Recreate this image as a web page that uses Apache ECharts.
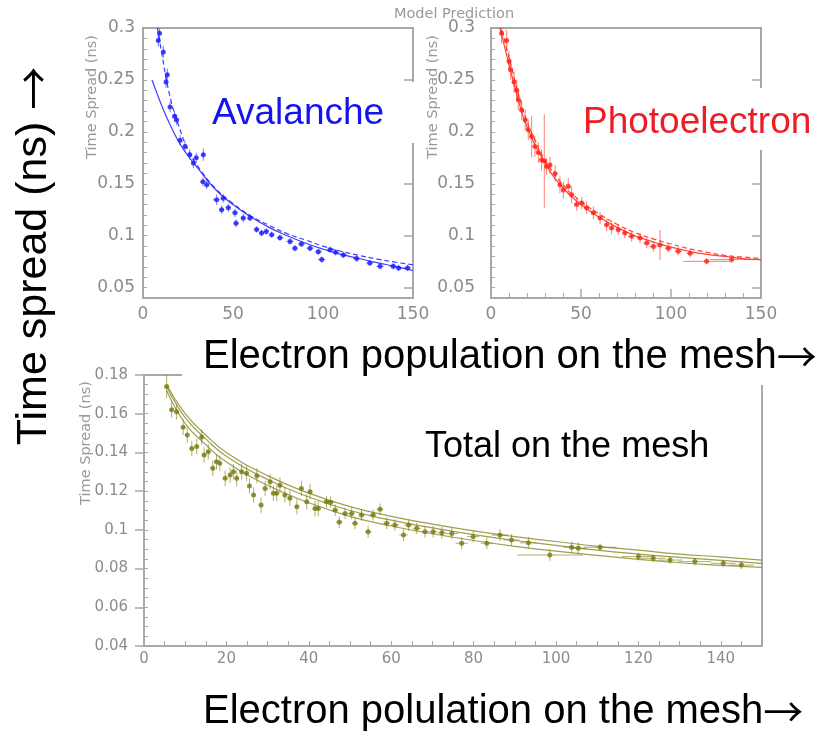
<!DOCTYPE html>
<html>
<head>
<meta charset="utf-8">
<script src="https://cdn.jsdelivr.net/npm/echarts@6/dist/echarts.min.js"></script>
<style>
html, body { margin: 0; padding: 0; background: #fff; }
#main { width: 816px; height: 732px; }
</style>
</head>
<body>
<div id="main"></div>
<script>
// points are [x, y, xErr, yErr]
const avalanchePoints = [
  [8.5, 0.288, 1, 0.006], [9.2, 0.295, 1, 0.006], [11.3, 0.277, 1, 0.006], [12.8, 0.248, 1, 0.006],
  [13.5, 0.255, 1, 0.006], [15, 0.224, 1, 0.005], [17.5, 0.215, 1, 0.005], [18.7, 0.2115, 1, 0.005],
  [20.6, 0.192, 1, 0.005], [23.3, 0.186, 1, 0.005], [26, 0.178, 1, 0.005], [28, 0.170, 1, 0.005],
  [29.6, 0.175, 1, 0.005], [33.5, 0.178, 1, 0.006], [33.3, 0.152, 1.5, 0.004], [35.4, 0.149, 1.5, 0.004],
  [40.9, 0.1346, 2, 0.005], [43.7, 0.125, 1.5, 0.004], [44.6, 0.136, 1.5, 0.004], [47.4, 0.127, 1.5, 0.004],
  [51.1, 0.122, 1.5, 0.004], [51.7, 0.112, 1.5, 0.004], [55.7, 0.117, 1.5, 0.004], [59.4, 0.117, 1.5, 0.003],
  [63.1, 0.106, 1.5, 0.003], [65.9, 0.1026, 1.5, 0.003], [68.5, 0.104, 1.5, 0.003], [71.5, 0.101, 1.5, 0.003],
  [76.1, 0.098, 2, 0.003], [81.7, 0.0945, 2, 0.003], [84.4, 0.088, 1.5, 0.003], [88, 0.092, 2, 0.003],
  [92.8, 0.088, 2, 0.003], [97.4, 0.0845, 2, 0.003], [99.3, 0.077, 2, 0.003], [103.9, 0.0865, 2, 0.003],
  [107, 0.084, 2, 0.003], [111.3, 0.0815, 2, 0.003], [118.7, 0.078, 2, 0.003], [126, 0.0737, 2, 0.003],
  [131.7, 0.0705, 2, 0.003], [139, 0.0705, 2, 0.003], [142, 0.069, 2, 0.003], [147, 0.069, 2, 0.003]
];
const avalancheFitUpper = [
  [8, 0.3], [10, 0.28], [15, 0.234], [20, 0.205], [25, 0.183], [30, 0.168], [40, 0.146], [50, 0.131],
  [60, 0.119], [70, 0.11], [80, 0.102], [90, 0.096], [100, 0.09], [110, 0.085], [120, 0.081],
  [130, 0.0775], [140, 0.0745], [150, 0.072]
];
const avalancheFitLower = [
  [5, 0.25], [8, 0.236], [10, 0.227], [15, 0.207], [20, 0.19], [25, 0.177], [30, 0.166], [40, 0.145],
  [50, 0.13], [60, 0.118], [70, 0.108], [80, 0.1], [90, 0.093], [100, 0.087], [110, 0.082],
  [120, 0.078], [130, 0.074], [140, 0.0705], [150, 0.0665]
];

const photoPoints = [
  [5.9, 0.295, 1, 0.01], [8.7, 0.288, 1, 0.01], [10, 0.268, 1, 0.01], [10.9, 0.26, 1, 0.01],
  [12.8, 0.248, 1, 0.01], [14.3, 0.24, 1, 0.01], [15.2, 0.231, 1, 0.01], [17, 0.221, 1, 0.01],
  [19, 0.2115, 1, 0.01], [20.7, 0.202, 1, 0.01], [22.6, 0.1955, 1, 0.02], [24.4, 0.186, 1, 0.01],
  [26.3, 0.18, 1, 0.01], [28.1, 0.173, 1, 0.01], [29.6, 0.172, 1, 0.045], [30.9, 0.1667, 1, 0.008],
  [32.8, 0.168, 1, 0.008], [35.6, 0.16, 1, 0.008], [38.3, 0.149, 1, 0.008], [40.2, 0.144, 1, 0.008],
  [42.9, 0.1475, 1.5, 0.008], [44.8, 0.1394, 1.5, 0.008], [47.6, 0.13, 1.5, 0.006], [50.4, 0.1314, 1.5, 0.006],
  [53.1, 0.127, 1.5, 0.006], [56.9, 0.122, 1.5, 0.006], [60.6, 0.117, 1.5, 0.006], [64.3, 0.1106, 1.5, 0.006],
  [67, 0.1074, 1.5, 0.006], [70.7, 0.1058, 1.5, 0.005], [74.4, 0.1026, 1.5, 0.005], [78.1, 0.0994, 2, 0.005],
  [82.8, 0.0978, 2, 0.005], [86.5, 0.093, 2, 0.005], [90.2, 0.0897, 2, 0.005], [93.9, 0.091, 2, 0.0145],
  [98.5, 0.088, 2, 0.004], [104, 0.085, 2, 0.004], [110.6, 0.083, 2, 0.004], [119.8, 0.0753, 13, 0.003],
  [133.7, 0.077, 12, 0.003]
];
const photoFitUpper = [
  [5, 0.305], [8, 0.285], [10, 0.272], [15, 0.238], [20, 0.21], [25, 0.19], [30, 0.173], [40, 0.149],
  [50, 0.133], [60, 0.121], [70, 0.111], [80, 0.103], [90, 0.097], [100, 0.092], [110, 0.0875],
  [120, 0.084], [130, 0.081], [140, 0.0795], [150, 0.078]
];
const photoFitLower = [
  [5, 0.3], [10, 0.265], [15, 0.232], [20, 0.205], [30, 0.17], [40, 0.146], [50, 0.13], [60, 0.118],
  [70, 0.108], [80, 0.1], [90, 0.094], [100, 0.089], [110, 0.085], [120, 0.082], [130, 0.08],
  [140, 0.078], [150, 0.077]
];

const totalPoints = [
  [5.5, 0.174, 0.5, 0.006], [6.7, 0.162, 0.5, 0.004], [7.9, 0.161, 0.5, 0.004], [9.5, 0.153, 0.5, 0.004],
  [10.5, 0.149, 0.5, 0.004], [11.6, 0.142, 0.5, 0.004], [12.8, 0.143, 0.5, 0.004], [14, 0.148, 0.5, 0.004],
  [14.6, 0.1387, 0.5, 0.004], [15.6, 0.1404, 0.5, 0.004], [16.7, 0.1318, 0.5, 0.004], [17.6, 0.1352, 0.5, 0.004],
  [18.4, 0.1344, 0.5, 0.004], [19.7, 0.1266, 0.5, 0.004], [20.9, 0.1283, 0.5, 0.004], [21.7, 0.13, 0.5, 0.004],
  [22.5, 0.1266, 0.5, 0.004], [23.7, 0.13, 0.5, 0.004], [24.9, 0.1292, 0.5, 0.004], [25.6, 0.1227, 0.5, 0.004],
  [26.6, 0.118, 0.5, 0.004], [27.4, 0.128, 0.5, 0.004], [28.4, 0.1128, 0.5, 0.004], [29.4, 0.1214, 0.5, 0.004],
  [30.6, 0.1249, 0.5, 0.004], [31.4, 0.1189, 0.5, 0.004], [32.2, 0.1189, 0.5, 0.004], [33, 0.1231, 0.5, 0.004],
  [34.2, 0.118, 0.5, 0.004], [35.4, 0.1163, 0.5, 0.004], [37.1, 0.112, 0.5, 0.004], [38.2, 0.1214, 0.5, 0.004],
  [39.5, 0.1145, 0.5, 0.004], [40.3, 0.1197, 0.5, 0.004], [41.5, 0.111, 0.5, 0.004], [42.3, 0.111, 0.5, 0.004],
  [44.3, 0.1145, 0.8, 0.003], [45.3, 0.1143, 0.8, 0.003], [46.4, 0.1102, 0.8, 0.003], [47.4, 0.104, 0.8, 0.003],
  [48.8, 0.1085, 0.8, 0.003], [50.4, 0.1085, 0.8, 0.003], [51.2, 0.1034, 0.8, 0.003], [52.8, 0.1077, 0.8, 0.003],
  [54.4, 0.099, 0.8, 0.003], [55.6, 0.1077, 0.8, 0.003], [57.3, 0.1106, 0.8, 0.003], [58.9, 0.1034, 0.8, 0.003],
  [60.9, 0.1025, 1, 0.003], [63, 0.0973, 1, 0.003], [64.2, 0.1025, 1, 0.003], [66.2, 0.1008, 1, 0.003],
  [68.2, 0.099, 1, 0.003], [70.2, 0.099, 1, 0.003], [72.3, 0.0985, 1, 0.003], [74.7, 0.0981, 1.5, 0.003],
  [77.1, 0.0931, 1.5, 0.003], [79.9, 0.0965, 1.5, 0.003], [83.2, 0.0931, 1.5, 0.003], [86.4, 0.0973, 2, 0.003],
  [89.2, 0.0948, 2, 0.003], [93.3, 0.0933, 2, 0.003], [98.5, 0.087, 8, 0.003], [103.8, 0.091, 2, 0.003],
  [105.4, 0.0905, 2, 0.003], [110.7, 0.091, 4, 0.002], [120, 0.0862, 4, 0.002], [123.6, 0.0853, 3, 0.002],
  [127.7, 0.0844, 3, 0.002], [133.7, 0.0836, 4, 0.002], [140.6, 0.0827, 3, 0.002], [145, 0.0818, 3, 0.002]
];
const totalFitUpper = [
  [5.5, 0.175], [10, 0.16], [15, 0.149], [20, 0.14], [30, 0.128], [40, 0.119], [50, 0.112], [60, 0.107],
  [70, 0.103], [80, 0.0995], [90, 0.0965], [100, 0.094], [110, 0.0915], [120, 0.0895], [130, 0.0875],
  [140, 0.086], [150, 0.0844]
];
const totalFitMiddle = [
  [5.5, 0.174], [10, 0.158], [15, 0.147], [20, 0.138], [30, 0.126], [40, 0.117], [50, 0.11], [60, 0.105],
  [70, 0.101], [80, 0.0975], [90, 0.0945], [100, 0.092], [110, 0.0895], [120, 0.0875], [130, 0.0858],
  [140, 0.0842], [150, 0.0827]
];
const totalFitLower = [
  [5.5, 0.172], [10, 0.155], [15, 0.144], [20, 0.135], [30, 0.123], [40, 0.114], [50, 0.107], [60, 0.102],
  [70, 0.098], [80, 0.0945], [90, 0.0915], [100, 0.089], [110, 0.0868], [120, 0.0848], [130, 0.083],
  [140, 0.0817], [150, 0.0806]
];

const topYTicks = [0.05, 0.1, 0.15, 0.2, 0.25, 0.3];
const bottomYTicks = [0.04, 0.06, 0.08, 0.1, 0.12, 0.14, 0.16, 0.18];
const bottomXTicks = [0, 20, 40, 60, 80, 100, 120, 140];

const chart = echarts.init(document.getElementById('main'));

const gray = '#8c8c8c';
const boxGray = '#a8a8a8';
const blue = '#1c1cff';
const red = '#ff2414';
const olive = '#7a7a12';

const fmt = v => String(+v.toFixed(3));

function errorBars(params, api) {
  const x = api.value(0), y = api.value(1), ex = api.value(2), ey = api.value(3);
  const l = api.coord([x - ex, y]), r = api.coord([x + ex, y]);
  const t = api.coord([x, y + ey]), b = api.coord([x, y - ey]);
  const style = { stroke: api.visual('color'), lineWidth: 1, opacity: 0.6 };
  return {
    type: 'group',
    children: [
      { type: 'line', shape: { x1: l[0], y1: l[1], x2: r[0], y2: r[1] }, style: style },
      { type: 'line', shape: { x1: t[0], y1: t[1], x2: b[0], y2: b[1] }, style: style }
    ]
  };
}

// minor tick axis (with labels) + overlay axis for long ticks
function yPair(grid, min, max, step, ticks, margin, fontSize) {
  return [
    {
      type: 'value', gridIndex: grid, min: min, max: max, interval: step,
      axisLine: { show: false }, splitLine: { show: false },
      axisTick: { inside: true, length: 4, lineStyle: { color: boxGray } },
      axisLabel: { customValues: ticks, formatter: fmt, color: gray, fontSize: fontSize, fontFamily: 'DejaVu Sans', margin: margin }
    },
    {
      type: 'value', gridIndex: grid, min: min, max: max,
      axisLine: { show: false }, splitLine: { show: false }, axisLabel: { show: false },
      axisTick: { inside: true, length: 9, customValues: ticks, lineStyle: { color: boxGray, width: 1.5 } }
    }
  ];
}

function series(points, color, xi, yi) {
  return [
    {
      type: 'custom', xAxisIndex: xi, yAxisIndex: yi, renderItem: errorBars, clip: true,
      itemStyle: { color: color }, encode: { x: 0, y: 1 }, data: points, z: 3
    },
    {
      type: 'scatter', xAxisIndex: xi, yAxisIndex: yi, symbol: 'circle', symbolSize: 5,
      itemStyle: { color: color }, data: points.map(p => [p[0], p[1]]), z: 4
    }
  ];
}

function fit(points, color, xi, yi, dashed) {
  return {
    type: 'line', xAxisIndex: xi, yAxisIndex: yi, data: points, smooth: true, showSymbol: false,
    clip: true, lineStyle: { color: color, width: 1.2, type: dashed ? [5, 3] : 'solid', opacity: 0.85 }, z: 2
  };
}

function caption(text, x, y, size, color, rotated) {
  return {
    type: 'text', z: 101, x: x, y: y, rotation: rotated ? Math.PI / 2 : 0,
    style: {
      text: '{a|' + text + '}{b|→}',
      textAlign: rotated ? 'center' : 'left', textVerticalAlign: 'middle',
      rich: {
        a: { fontSize: size, fontFamily: 'Liberation Sans', fill: color },
        b: { fontSize: size, fontFamily: 'Noto Sans CJK SC', fill: color }
      }
    }
  };
}

function smallText(text, x, y, rotated) {
  return {
    type: 'text', z: 101, x: x, y: y, rotation: rotated ? Math.PI / 2 : 0,
    style: { text: text, fill: '#9a9a9a', fontSize: 14.5, fontFamily: 'DejaVu Sans', textAlign: 'center', textVerticalAlign: 'middle' }
  };
}

function label(text, x, y, size, color) {
  return {
    type: 'text', z: 101, x: x, y: y,
    style: { text: text, fill: color, fontSize: size, fontFamily: 'Liberation Sans', textAlign: 'left', textVerticalAlign: 'middle' }
  };
}

const boxGrid = { show: true, borderColor: boxGray, borderWidth: 2, backgroundColor: 'transparent' };

const option = {
  backgroundColor: '#fff',
  animation: false,
  grid: [
    Object.assign({ left: 143, top: 28, width: 270, height: 270 }, boxGrid),
    Object.assign({ left: 491, top: 28, width: 270, height: 270 }, boxGrid),
    Object.assign({ left: 144, top: 375, width: 618, height: 271 }, boxGrid)
  ],
  xAxis: [
    {
      type: 'value', gridIndex: 0, min: 0, max: 150, interval: 50,
      axisLine: { show: false }, axisTick: { show: false }, splitLine: { show: false },
      axisLabel: { color: gray, fontSize: 17, fontFamily: 'DejaVu Sans', margin: 8 }
    },
    {
      type: 'value', gridIndex: 1, min: 0, max: 150, interval: 50,
      axisLine: { show: false }, splitLine: { show: false },
      axisTick: { inside: true, length: 9, lineStyle: { color: boxGray, width: 1.5 } },
      minorTick: { show: true, splitNumber: 5, length: 5, lineStyle: { color: boxGray } },
      axisLabel: { color: gray, fontSize: 17, fontFamily: 'DejaVu Sans', margin: 8 }
    },
    {
      type: 'value', gridIndex: 2, min: 0, max: 150, interval: 5,
      axisLine: { show: false }, splitLine: { show: false },
      axisTick: { inside: true, length: 5, lineStyle: { color: boxGray } },
      axisLabel: { customValues: bottomXTicks, color: gray, fontSize: 15, fontFamily: 'DejaVu Sans', margin: 6 }
    },
    {
      type: 'value', gridIndex: 2, min: 0, max: 150,
      axisLine: { show: false }, splitLine: { show: false }, axisLabel: { show: false },
      axisTick: { inside: true, length: 10, customValues: bottomXTicks, lineStyle: { color: boxGray, width: 1.5 } }
    }
  ],
  yAxis: [].concat(
    yPair(0, 0.04, 0.3, 0.01, topYTicks, 8, 17),
    yPair(1, 0.04, 0.3, 0.01, topYTicks, 16, 17),
    yPair(2, 0.04, 0.18, 0.005, bottomYTicks, 16, 15)
  ),
  series: [].concat(
    fit(avalancheFitUpper, blue, 0, 0, true),
    fit(avalancheFitLower, blue, 0, 0, false),
    series(avalanchePoints, blue, 0, 0),
    fit(photoFitUpper, red, 1, 2, true),
    fit(photoFitLower, red, 1, 2, false),
    series(photoPoints, red, 1, 2),
    fit(totalFitUpper, '#8e8e30', 2, 4, false),
    fit(totalFitMiddle, '#8e8e30', 2, 4, false),
    fit(totalFitLower, '#8e8e30', 2, 4, false),
    series(totalPoints, olive, 2, 4)
  ),
  graphic: [
    { type: 'rect', z: 100, shape: { x: 200, y: 82, width: 218, height: 61 }, style: { fill: '#fff' } },
    { type: 'rect', z: 100, shape: { x: 570, y: 88, width: 246, height: 62 }, style: { fill: '#fff' } },
    { type: 'rect', z: 100, shape: { x: 182, y: 329, width: 634, height: 56 }, style: { fill: '#fff' } },
    smallText('Model Prediction', 454, 14, false),
    smallText('Time Spread (ns)', 92, 97, true),
    smallText('Time Spread (ns)', 433, 97, true),
    smallText('Time Spread (ns)', 86, 443, true),
    label('Avalanche', 212, 114, 37, '#1414f0'),
    label('Photoelectron', 583, 123, 37, '#ee1c24'),
    label('Total on the mesh', 425, 447, 36, '#000'),
    caption('Electron population on the mesh', 203, 357, 40, '#000', false),
    caption('Electron polulation on the mesh', 203, 712, 40, '#000', false),
    caption('Time spread (ns) ', 34, 256, 43, '#000', true)
  ]
};

chart.setOption(option);
</script>
</body>
</html>
